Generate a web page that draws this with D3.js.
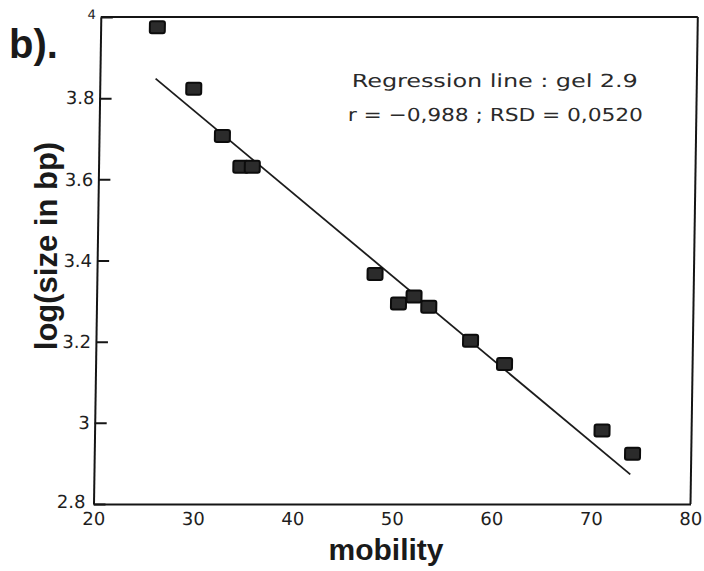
<!DOCTYPE html>
<html>
<head>
<meta charset="utf-8">
<script src="https://cdn.jsdelivr.net/npm/d3@7"></script>
<style>
  html, body { margin: 0; padding: 0; background: #fff; }
  svg { display: block; }
</style>
</head>
<body>
<svg id="chart" width="704" height="571"></svg>
<script>
// Gel calibration: log of fragment size against mobility
const mobility = [25.7, 29.45, 32.4, 34.3, 35.45, 47.95, 50.35, 51.9, 53.4, 57.65, 61.1, 71.0, 74.1];
const logSize  = [3.975, 3.823, 3.707, 3.631, 3.631, 3.367, 3.294, 3.311, 3.286, 3.202, 3.145, 2.981, 2.924];

// Fitted regression line (log size = intercept + slope * mobility)
const fitSlope = -0.02019;
const fitIntercept = 4.365;
const fitRange = [25.6, 73.9];

const xTicks = [20, 30, 40, 50, 60, 70, 80];
const yTicks = [2.8, 3, 3.2, 3.4, 3.6, 3.8, 4];
const yTickLabels = ["2.8", "3", "3.2", "3.4", "3.6", "3.8", "4"];

const noteLines = ["Regression line : gel 2.9", "r = \u22120,988 ; RSD = 0,0520"];
const panelLabel = "b).";
const xTitle = "mobility";
const yTitle = "log(size in bp)";

const svg = d3.select("#chart");

const plotLeft = 93.5, plotRight = 690.5, plotTop = 17, plotBottom = 504;
const x = d3.scaleLinear().domain([20, 80]).range([plotLeft, plotRight]);
const y = d3.scaleLinear().domain([2.8, 4]).range([plotBottom, plotTop]);

// plot area leans slightly to the right towards the top
const lean = 0.015;
const plot = svg.append("g")
  .attr("transform", `matrix(1,0,${-lean},1,${lean * plotBottom},0)`);

const ink = "#151515";
const tickFont = "'DejaVu Sans', sans-serif";

// frame: top and right edges
plot.append("line")
  .attr("x1", x(20)).attr("x2", x(80)).attr("y1", y(4)).attr("y2", y(4))
  .attr("stroke", ink).attr("stroke-width", 2);
plot.append("line")
  .attr("x1", x(80)).attr("x2", x(80)).attr("y1", y(4)).attr("y2", y(2.8))
  .attr("stroke", ink).attr("stroke-width", 2);

// left axis with inward ticks
const yAxis = d3.axisLeft(y)
  .tickValues(yTicks)
  .tickFormat((d, i) => yTickLabels[i])
  .tickSizeInner(-12)
  .tickSizeOuter(0)
  .tickPadding(5);
const gy = plot.append("g").attr("transform", `translate(${plotLeft},0)`).call(yAxis);
gy.select(".domain").attr("stroke", ink).attr("stroke-width", 2);
gy.selectAll(".tick line").attr("stroke", ink).attr("stroke-width", 2);
gy.selectAll(".tick text")
  .attr("font-family", tickFont).attr("font-size", 18).attr("fill", "#1e1e1e");
gy.selectAll(".tick text").filter(d => d === 4).attr("font-size", 13).attr("dy", "0.1em");
gy.selectAll(".tick text").filter(d => d === 2.8).attr("x", -8).attr("dy", "0.2em");

// bottom axis, labels only
const xAxis = d3.axisBottom(x)
  .tickValues(xTicks)
  .tickFormat(d3.format("d"))
  .tickSizeInner(0)
  .tickSizeOuter(0)
  .tickPadding(8);
const gx = plot.append("g").attr("transform", `translate(0,${plotBottom})`).call(xAxis);
gx.select(".domain").attr("stroke", ink).attr("stroke-width", 2);
gx.selectAll(".tick line").remove();
gx.selectAll(".tick text")
  .attr("font-family", tickFont).attr("font-size", 18).attr("fill", "#1e1e1e");

// regression line
plot.append("line")
  .attr("x1", x(fitRange[0])).attr("y1", y(fitIntercept + fitSlope * fitRange[0]))
  .attr("x2", x(fitRange[1])).attr("y2", y(fitIntercept + fitSlope * fitRange[1]))
  .attr("stroke", "#1c1c1c").attr("stroke-width", 1.8);

// data markers
const mw = 15, mh = 12;
plot.append("g").selectAll("rect")
  .data(mobility.map((m, i) => ({ m, v: logSize[i] })))
  .join("rect")
  .attr("x", d => x(d.m) - mw / 2)
  .attr("y", d => y(d.v) - mh / 2)
  .attr("width", mw).attr("height", mh)
  .attr("rx", 2)
  .attr("fill", "#2b2b2b")
  .attr("stroke", "#0c0c0c").attr("stroke-width", 2);

// regression note
const note = plot.append("g")
  .attr("font-family", tickFont).attr("font-size", 18).attr("fill", "#2a2a2a");
note.append("text").attr("x", 345.5).attr("y", 87.5)
  .attr("textLength", 286).attr("lengthAdjust", "spacingAndGlyphs").text(noteLines[0]);
note.append("text").attr("x", 342).attr("y", 121.5)
  .attr("textLength", 295).attr("lengthAdjust", "spacingAndGlyphs").text(noteLines[1]);

// titles
const titleFont = "'Liberation Sans', Arial, sans-serif";
svg.append("text")
  .attr("x", 386).attr("y", 560)
  .attr("text-anchor", "middle")
  .attr("font-family", titleFont).attr("font-weight", "bold").attr("font-size", 30)
  .attr("fill", "#1a1a1a")
  .text(xTitle);
svg.append("text")
  .attr("transform", "translate(57,246) rotate(-90)")
  .attr("text-anchor", "middle")
  .attr("font-family", titleFont).attr("font-weight", "bold").attr("font-size", 31)
  .attr("fill", "#1a1a1a")
  .text(yTitle);
svg.append("text")
  .attr("x", 9).attr("y", 58)
  .attr("font-family", titleFont).attr("font-weight", "bold").attr("font-size", 40)
  .attr("fill", "#1a1a1a")
  .text(panelLabel);
</script>
</body>
</html>
